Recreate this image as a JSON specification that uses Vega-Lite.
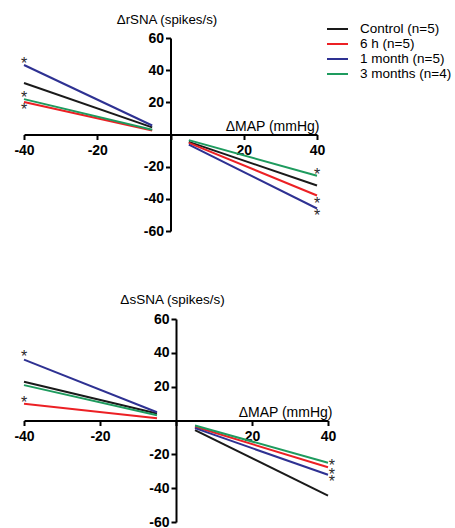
{
  "$schema": "https://vega.github.io/schema/vega-lite/v6.json",
  "padding": {"left": 13, "top": 12, "right": 5, "bottom": 5},
  "spacing": 54,
  "config": {
    "view": {"stroke": null},
    "font": "Liberation Sans",
    "axis": {
      "grid": false,
      "domainColor": "black",
      "domainWidth": 2,
      "tickColor": "black",
      "tickWidth": 2,
      "tickSize": 5,
      "labelFont": "Liberation Sans",
      "labelFontSize": 14,
      "labelFontWeight": "bold",
      "labelColor": "black",
      "labelFlush": false,
      "labelOverlap": false,
      "labelBound": false,
      "titleFont": "Liberation Sans",
      "titleFontWeight": "normal",
      "titleColor": "black"
    }
  },
  "resolve": {"legend": {"color": "independent"}},
  "datasets": {
    "lines": [
      {"panel": "r", "group": "Control (n=5)", "seg": "L", "x": -40, "y": 32},
      {"panel": "r", "group": "Control (n=5)", "seg": "L", "x": -5, "y": 4.4},
      {"panel": "r", "group": "Control (n=5)", "seg": "R", "x": 5, "y": -4.6},
      {"panel": "r", "group": "Control (n=5)", "seg": "R", "x": 40, "y": -31.7},
      {"panel": "r", "group": "6 h (n=5)", "seg": "L", "x": -40, "y": 20.2},
      {"panel": "r", "group": "6 h (n=5)", "seg": "L", "x": -5, "y": 2.5},
      {"panel": "r", "group": "6 h (n=5)", "seg": "R", "x": 5, "y": -5.2},
      {"panel": "r", "group": "6 h (n=5)", "seg": "R", "x": 40, "y": -37.9},
      {"panel": "r", "group": "1 month (n=5)", "seg": "L", "x": -40, "y": 43.2},
      {"panel": "r", "group": "1 month (n=5)", "seg": "L", "x": -5, "y": 5.6},
      {"panel": "r", "group": "1 month (n=5)", "seg": "R", "x": 5, "y": -6.3},
      {"panel": "r", "group": "1 month (n=5)", "seg": "R", "x": 40, "y": -46},
      {"panel": "r", "group": "3 months (n=4)", "seg": "L", "x": -40, "y": 22},
      {"panel": "r", "group": "3 months (n=4)", "seg": "L", "x": -5, "y": 3},
      {"panel": "r", "group": "3 months (n=4)", "seg": "R", "x": 5, "y": -3.5},
      {"panel": "r", "group": "3 months (n=4)", "seg": "R", "x": 40, "y": -25.6},
      {"panel": "s", "group": "Control (n=5)", "seg": "L", "x": -40, "y": 22.9},
      {"panel": "s", "group": "Control (n=5)", "seg": "L", "x": -5, "y": 4.1},
      {"panel": "s", "group": "Control (n=5)", "seg": "R", "x": 5, "y": -5.7},
      {"panel": "s", "group": "Control (n=5)", "seg": "R", "x": 40, "y": -44.4},
      {"panel": "s", "group": "6 h (n=5)", "seg": "L", "x": -40, "y": 9.9},
      {"panel": "s", "group": "6 h (n=5)", "seg": "L", "x": -5, "y": 1.4},
      {"panel": "s", "group": "6 h (n=5)", "seg": "R", "x": 5, "y": -3.7},
      {"panel": "s", "group": "6 h (n=5)", "seg": "R", "x": 40, "y": -27.6},
      {"panel": "s", "group": "1 month (n=5)", "seg": "L", "x": -40, "y": 36},
      {"panel": "s", "group": "1 month (n=5)", "seg": "L", "x": -5, "y": 4.9},
      {"panel": "s", "group": "1 month (n=5)", "seg": "R", "x": 5, "y": -4.5},
      {"panel": "s", "group": "1 month (n=5)", "seg": "R", "x": 40, "y": -32.1},
      {"panel": "s", "group": "3 months (n=4)", "seg": "L", "x": -40, "y": 20.9},
      {"panel": "s", "group": "3 months (n=4)", "seg": "L", "x": -5, "y": 3.1},
      {"panel": "s", "group": "3 months (n=4)", "seg": "R", "x": 5, "y": -3},
      {"panel": "s", "group": "3 months (n=4)", "seg": "R", "x": 40, "y": -25}
    ],
    "stars": [
      {"panel": "r", "x": -40, "y": 46.3},
      {"panel": "r", "x": -40, "y": 25},
      {"panel": "r", "x": -40, "y": 17.5},
      {"panel": "r", "x": 40, "y": -23},
      {"panel": "r", "x": 40, "y": -40.5},
      {"panel": "r", "x": 40, "y": -48},
      {"panel": "s", "x": -40, "y": 40},
      {"panel": "s", "x": -40, "y": 12.8},
      {"panel": "s", "x": 41, "y": -24.4},
      {"panel": "s", "x": 41, "y": -29.6},
      {"panel": "s", "x": 41, "y": -34.1}
    ]
  },
  "vconcat": [
    {
      "width": 293,
      "height": 193,
      "encoding": {
        "x": {
          "field": "x", "type": "quantitative",
          "scale": {"domain": [-40, 40], "nice": false, "zero": false},
          "axis": {
            "values": [-40, -20, 0, 20, 40],
            "labelExpr": "datum.value == 0 ? '' : datum.value",
            "labelOverlap": false,
            "offset": -96.5,
            "title": "ΔMAP (mmHg)",
            "titleFontSize": 14,
            "titleAnchor": null,
            "titleX": 295,
            "titleY": -4,
            "titleAlign": "right",
            "titleBaseline": "alphabetic",
            "labelPadding": 4
          }
        },
        "y": {
          "field": "y", "type": "quantitative",
          "scale": {"domain": [-60, 60], "nice": false, "zero": false},
          "axis": {
            "values": [-60, -40, -20, 20, 40, 60],
            "labelExpr": "datum.value",
            "labelOverlap": false,
            "offset": -146.5,
            "title": "ΔrSNA (spikes/s)",
            "titleFontSize": 13.3,
            "titleAngle": 0,
            "titleAnchor": null,
            "titleX": -4,
            "titleY": -15,
            "titleAlign": "center",
            "titleBaseline": "alphabetic",
            "labelPadding": 2
          }
        }
      },
      "layer": [
        {
          "data": {"name": "lines"},
          "transform": [{"filter": "datum.panel == 'r'"}],
          "mark": {"type": "line", "strokeWidth": 2},
          "encoding": {
            "color": {
              "field": "group", "type": "nominal",
              "scale": {
                "domain": ["Control (n=5)", "6 h (n=5)", "1 month (n=5)", "3 months (n=4)"],
                "range": ["#1a1a1a", "#ec2024", "#2e3192", "#1e9b5e"]
              },
              "legend": {
                "orient": "none",
                "legendX": 305.5,
                "legendY": -17,
                "title": null,
                "symbolType": "M-1.5,0H1.5",
                "symbolSize": 196,
                "symbolStrokeWidth": 2,
                "labelFont": "Liberation Sans",
                "labelFontSize": 13.5,
                "labelColor": "black",
                "labelOffset": 14.5,
                "rowPadding": 0
              }
            },
            "detail": {"field": "seg"}
          }
        },
        {
          "data": {"name": "stars"},
          "transform": [{"filter": "datum.panel == 'r'"}],
          "mark": {"type": "text", "text": "*", "fontSize": 16, "baseline": "alphabetic", "dy": 9, "color": "#2a2a2a", "font": "Liberation Sans"},
          "encoding": {}
        }
      ]
    },
    {
      "width": 304,
      "height": 203,
      "encoding": {
        "x": {
          "field": "x", "type": "quantitative",
          "scale": {"domain": [-40, 40], "nice": false, "zero": false},
          "axis": {
            "values": [-40, -20, 0, 20, 40],
            "labelExpr": "datum.value == 0 ? '' : datum.value",
            "labelOverlap": false,
            "offset": -101.5,
            "title": "ΔMAP (mmHg)",
            "titleFontSize": 14,
            "titleAnchor": null,
            "titleX": 308,
            "titleY": -4,
            "titleAlign": "right",
            "titleBaseline": "alphabetic",
            "labelPadding": 4
          }
        },
        "y": {
          "field": "y", "type": "quantitative",
          "scale": {"domain": [-60, 60], "nice": false, "zero": false},
          "axis": {
            "values": [-60, -40, -20, 20, 40, 60],
            "labelExpr": "datum.value",
            "labelOverlap": false,
            "offset": -152,
            "title": "ΔsSNA (spikes/s)",
            "titleFontSize": 13.5,
            "titleAngle": 0,
            "titleAnchor": null,
            "titleX": -4,
            "titleY": -16,
            "titleAlign": "center",
            "titleBaseline": "alphabetic",
            "labelPadding": 2
          }
        }
      },
      "layer": [
        {
          "data": {"name": "lines"},
          "transform": [{"filter": "datum.panel == 's'"}],
          "mark": {"type": "line", "strokeWidth": 2},
          "encoding": {
            "color": {
              "field": "group", "type": "nominal",
              "scale": {
                "domain": ["Control (n=5)", "6 h (n=5)", "1 month (n=5)", "3 months (n=4)"],
                "range": ["#1a1a1a", "#ec2024", "#2e3192", "#1e9b5e"]
              },
              "legend": null
            },
            "detail": {"field": "seg"}
          }
        },
        {
          "data": {"name": "stars"},
          "transform": [{"filter": "datum.panel == 's'"}],
          "mark": {"type": "text", "text": "*", "fontSize": 16, "baseline": "alphabetic", "dy": 9, "color": "#2a2a2a", "font": "Liberation Sans"},
          "encoding": {}
        }
      ]
    }
  ]
}
